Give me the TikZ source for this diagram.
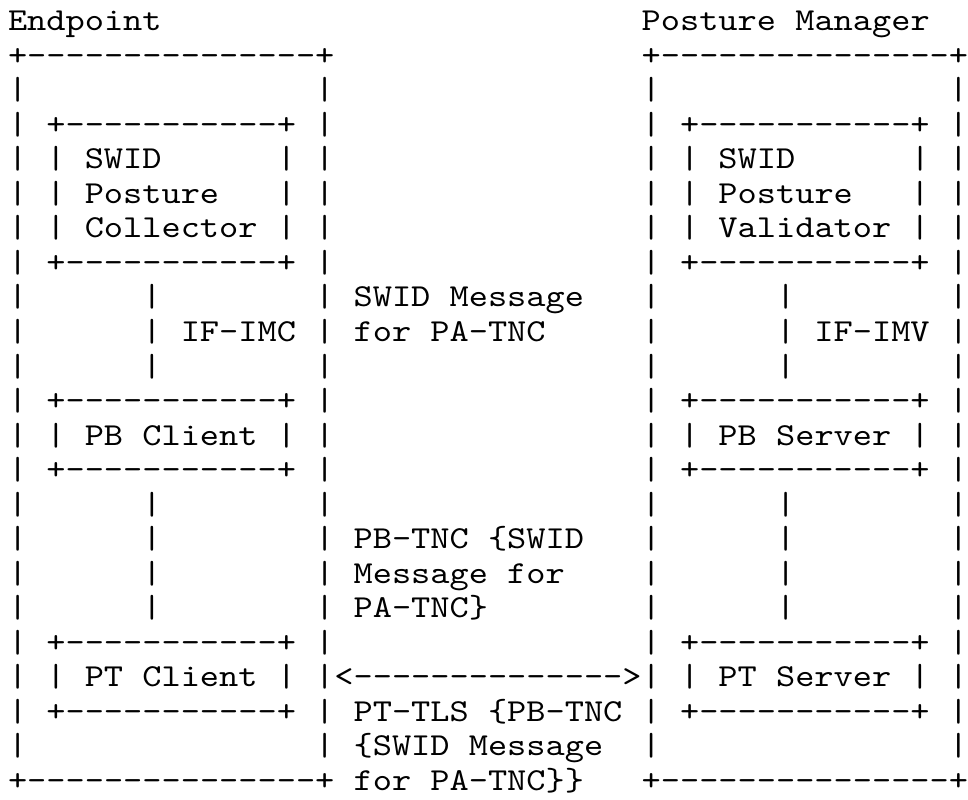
\documentclass[tikz,border=0pt]{standalone}
\usepackage{fontspec}
\setmonofont{lmmono10-regular.otf}[FakeStretch=1.143]
\usepackage{tikz}
\usetikzlibrary{positioning}
\newlength{\Pitch}
\setlength\Pitch{25.9pt}
\newlength{\Margin}
\setlength\Margin{5.8pt}

\begin{document}
\begin{tikzpicture}[
    ascii/.style = {
      font = \ttfamily\fontsize{24pt}{26pt}\selectfont,
      inner sep = 0pt, anchor = base west
    },
    ]
\fill [white] (0,0) rectangle (726pt,-600pt);
\useasboundingbox (0,0) rectangle (726pt,-600pt);

% titles and outer boxes
\node  [ascii]  (row_00)  at (\Margin, {-23pt-0*\Pitch})   {Endpoint~~~~~~~~~~~~~~~~~~~~~~~~~Posture~Manager};
\node  [ascii]  (row_01)  at (\Margin, {-23pt-1*\Pitch})   {+---------------+~~~~~~~~~~~~~~~~+---------------+};
\node  [ascii]  (row_02)  at (\Margin, {-23pt-2*\Pitch})   {|~~~~~~~~~~~~~~~|~~~~~~~~~~~~~~~~|~~~~~~~~~~~~~~~|};

% collector / validator
\node  [ascii]  (row_03)  at (\Margin, {-23pt-3*\Pitch})   {|~+-----------+~|~~~~~~~~~~~~~~~~|~+-----------+~|};
\node  [ascii]  (row_04)  at (\Margin, {-23pt-4*\Pitch})   {|~|~SWID~~~~~~|~|~~~~~~~~~~~~~~~~|~|~SWID~~~~~~|~|};
\node  [ascii]  (row_05)  at (\Margin, {-23pt-5*\Pitch})   {|~|~Posture~~~|~|~~~~~~~~~~~~~~~~|~|~Posture~~~|~|};
\node  [ascii]  (row_06)  at (\Margin, {-23pt-6*\Pitch})   {|~|~Collector~|~|~~~~~~~~~~~~~~~~|~|~Validator~|~|};
\node  [ascii]  (row_07)  at (\Margin, {-23pt-7*\Pitch})   {|~+-----------+~|~~~~~~~~~~~~~~~~|~+-----------+~|};
\node  [ascii]  (row_08)  at (\Margin, {-23pt-8*\Pitch})   {|~~~~~~|~~~~~~~~|~SWID~Message~~~|~~~~~~|~~~~~~~~|};
\node  [ascii]  (row_09)  at (\Margin, {-23pt-9*\Pitch})   {|~~~~~~|~IF-IMC~|~for~PA-TNC~~~~~|~~~~~~|~IF-IMV~|};
\node  [ascii]  (row_10)  at (\Margin, {-23pt-10*\Pitch})  {|~~~~~~|~~~~~~~~|~~~~~~~~~~~~~~~~|~~~~~~|~~~~~~~~|};

% PB client / server
\node  [ascii]  (row_11)  at (\Margin, {-23pt-11*\Pitch})  {|~+-----------+~|~~~~~~~~~~~~~~~~|~+-----------+~|};
\node  [ascii]  (row_12)  at (\Margin, {-23pt-12*\Pitch})  {|~|~PB~Client~|~|~~~~~~~~~~~~~~~~|~|~PB~Server~|~|};
\node  [ascii]  (row_13)  at (\Margin, {-23pt-13*\Pitch})  {|~+-----------+~|~~~~~~~~~~~~~~~~|~+-----------+~|};
\node  [ascii]  (row_14)  at (\Margin, {-23pt-14*\Pitch})  {|~~~~~~|~~~~~~~~|~~~~~~~~~~~~~~~~|~~~~~~|~~~~~~~~|};
\node  [ascii]  (row_15)  at (\Margin, {-23pt-15*\Pitch})  {|~~~~~~|~~~~~~~~|~PB-TNC~\{SWID~~~|~~~~~~|~~~~~~~~|};
\node  [ascii]  (row_16)  at (\Margin, {-23pt-16*\Pitch})  {|~~~~~~|~~~~~~~~|~Message~for~~~~|~~~~~~|~~~~~~~~|};
\node  [ascii]  (row_17)  at (\Margin, {-23pt-17*\Pitch})  {|~~~~~~|~~~~~~~~|~PA-TNC\}~~~~~~~~|~~~~~~|~~~~~~~~|};

% PT client / server
\node  [ascii]  (row_18)  at (\Margin, {-23pt-18*\Pitch})  {|~+-----------+~|~~~~~~~~~~~~~~~~|~+-----------+~|};
\node  [ascii]  (row_19)  at (\Margin, {-23pt-19*\Pitch})  {|~|~PT~Client~|~|<-------------->|~|~PT~Server~|~|};
\node  [ascii]  (row_20)  at (\Margin, {-23pt-20*\Pitch})  {|~+-----------+~|~PT-TLS~\{PB-TNC~|~+-----------+~|};
\node  [ascii]  (row_21)  at (\Margin, {-23pt-21*\Pitch})  {|~~~~~~~~~~~~~~~|~\{SWID~Message~~|~~~~~~~~~~~~~~~|};
\node  [ascii]  (row_22)  at (\Margin, {-23pt-22*\Pitch})  {+---------------+~for~PA-TNC\}\}~~~+---------------+};

\end{tikzpicture}
\end{document}
